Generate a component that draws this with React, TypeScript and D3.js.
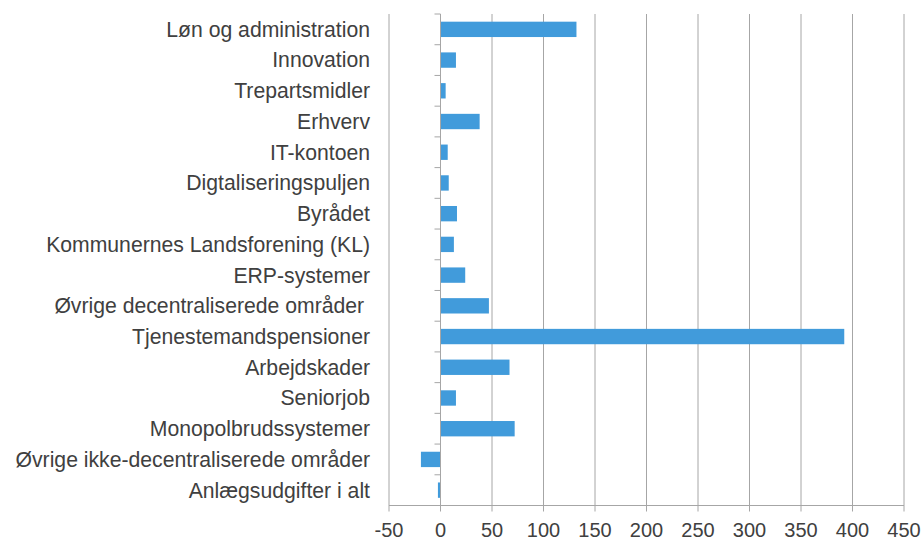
import React from "react";
import * as d3 from "d3";

const categories = [
  "Løn og administration",
  "Innovation",
  "Trepartsmidler",
  "Erhverv",
  "IT-kontoen",
  "Digtaliseringspuljen",
  "Byrådet",
  "Kommunernes Landsforening (KL)",
  "ERP-systemer",
  "Øvrige decentraliserede områder ",
  "Tjenestemandspensioner",
  "Arbejdskader",
  "Seniorjob",
  "Monopolbrudssystemer",
  "Øvrige ikke-decentraliserede områder",
  "Anlægsudgifter i alt",
];
const values = [132, 15, 5, 38, 7, 8, 16, 13, 24, 47, 392, 67, 15, 72, -19, -2.5];
const xTicks = [-50, 0, 50, 100, 150, 200, 250, 300, 350, 400, 450];

export default function App() {
  const W = 924, H = 539;
  const left = 389, right = 904, top = 14, bottom = 505.5;
  const x = d3.scaleLinear().domain([-50, 450]).range([left, right]);
  const y = d3.scaleBand<string>().domain(categories).range([top, bottom]).paddingInner(0.5).paddingOuter(0.25);
  const band = d3.scaleBand<string>().domain(categories).range([top, bottom]);
  const grid = "#a6a6a6";
  const font = "'Liberation Sans', Arial, sans-serif";
  const x0 = x(0);
  return (
    <svg width={W} height={H} style={{ position: "absolute", left: 0, top: 0 }}>
      <rect width={W} height={H} fill="#fff" />
      {xTicks.map((t) => (
        <line key={"g" + t} x1={x(t)} x2={x(t)} y1={top} y2={bottom + 6} stroke={grid} strokeWidth={1} />
      ))}
      <line x1={left} x2={right} y1={bottom} y2={bottom} stroke={grid} strokeWidth={1} />
      {categories.map((c, i) => {
        const v = values[i];
        return (
          <rect
            key={c}
            x={Math.min(x(v), x0)}
            width={Math.abs(x(v) - x0)}
            y={y(c)}
            height={y.bandwidth()}
            fill="#419bdb"
          />
        );
      })}
      <line x1={x0} x2={x0} y1={top} y2={bottom} stroke={grid} strokeWidth={1} />
      {categories.map((c, i) => (
        <line key={"t" + i} x1={x0 - 6} x2={x0} y1={band(c)} y2={band(c)} stroke={grid} strokeWidth={1} />
      ))}
      {categories.map((c) => (
        <text
          key={"l" + c}
          x={370}
          y={(band(c) as number) + band.bandwidth() / 2}
          dy="0.35em"
          textAnchor="end"
          fontFamily={font}
          fontSize={21.2}
          fill="#404040"
          style={{ whiteSpace: "pre" }}
        >
          {c}
        </text>
      ))}
      {xTicks.map((t) => (
        <text key={"x" + t} x={x(t)} y={536.5} textAnchor="middle" fontFamily={font} fontSize={20} fill="#404040">
          {t}
        </text>
      ))}
    </svg>
  );
}
